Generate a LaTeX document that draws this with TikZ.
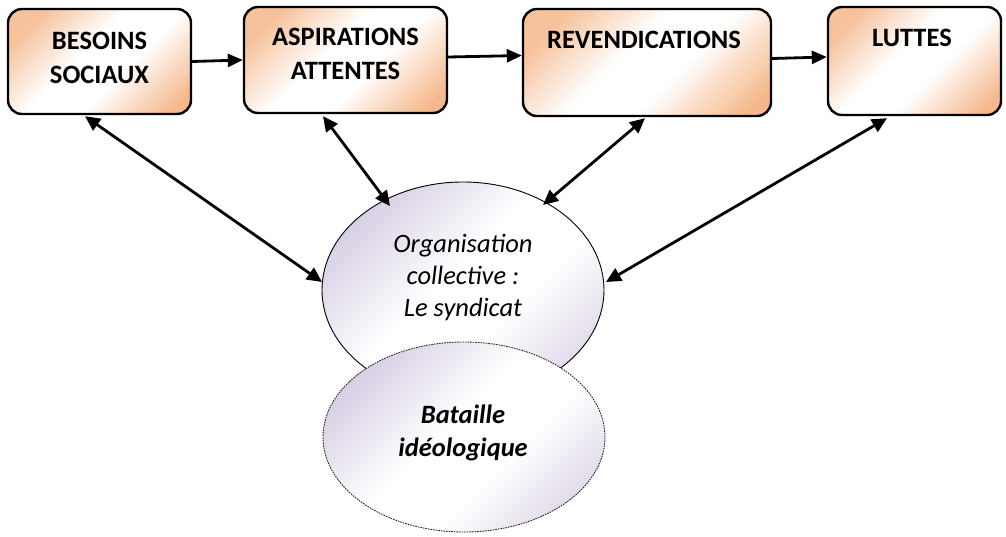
\documentclass[tikz,border=0pt]{standalone}
\usepackage{fontspec}
\setmainfont{Carlito}
\usetikzlibrary{shapes.geometric,arrows.meta,calc}

\definecolor{peach}{RGB}{245,184,140}
\definecolor{peachlt}{RGB}{246,194,156}
\definecolor{lilac}{RGB}{210,200,223}
\definecolor{lilaclt}{RGB}{214,205,227}

% diagonal band: tinted corner, white middle, tinted opposite corner
\pgfdeclarehorizontalshading{peachband}{100bp}{color(0bp)=(peachlt); color(24bp)=(peachlt); color(44bp)=(white); color(58bp)=(white); color(80bp)=(peach); color(100bp)=(peach)}
\pgfdeclarehorizontalshading{lilacband}{100bp}{color(0bp)=(lilaclt); color(24bp)=(lilaclt); color(46bp)=(white); color(60bp)=(white); color(84bp)=(lilac); color(100bp)=(lilac)}

\begin{document}
\begin{tikzpicture}[x=1pt,y=-1pt,
  stagebox/.style={draw=black, line width=2.4pt, rounded corners=14pt,
    shading=peachband, shading angle=-45, inner sep=0pt},
  stagetext/.style={font=\fontsize{26.5}{34}\selectfont\bfseries, align=center, inner sep=0pt},
  orgshape/.style={ellipse, draw=black, line width=0.9pt, shading=lilacband,
    shading angle=-45, inner sep=0pt},
  ideoshape/.style={ellipse, draw=black!85, line width=0.9pt,
    dash pattern=on 1.6pt off 1pt, shading=lilacband, shading angle=-45, inner sep=0pt},
  flow/.style={-{Triangle[length=15pt,width=13pt]}, line width=2.8pt},
  link/.style={{Triangle[length=15pt,width=14pt]}-{Triangle[length=15pt,width=14pt]}, line width=2.8pt}]

\useasboundingbox (0,0) rectangle (1006,536);

% the four stages
\node[stagebox, minimum width=183pt, minimum height=105pt] (b1) at (99.5,61.5) {};
\node[stagebox, minimum width=203pt, minimum height=106pt] (b2) at (345.5,60) {};
\node[stagebox, minimum width=248pt, minimum height=107pt] (b3) at (647,62.5) {};
\node[stagebox, minimum width=173pt, minimum height=108pt] (b4) at (914.5,61) {};

\node[stagetext] (t1) at (99.5,57.5) {BESOINS\\SOCIAUX};
\node[stagetext] (t2) at (345.5,54) {ASPIRATIONS\\ATTENTES};
\node[stagetext] (t3) at (644,39.5) {REVENDICATIONS};
\node[stagetext] (t4) at (912,37.5) {LUTTES};

% the union and the ideological battle
\node[orgshape, minimum width=282pt, minimum height=216pt] (e1) at (463,290) {};
\node[ideoshape, minimum width=282pt, minimum height=190pt] (e2) at (464,437) {};

\node[font=\fontsize{26.5}{32}\selectfont\itshape, align=center, inner sep=0pt] (te1) at (463,277)
  {Organisation\\collective :\\Le syndicat};
\node[font=\fontsize{26.5}{33}\selectfont\bfseries\itshape, align=center, inner sep=0pt] (te2) at (463,433)
  {Bataille\\idéologique};

% sequence of stages
\draw[flow] (b1.east) -- (b2.west);
\draw[flow] ([yshift=3pt]b2.east) -- ([yshift=7pt]b3.west);
\draw[flow] ([yshift=4pt]b3.east) -- ([yshift=4pt]b4.west);

% two-way links between each stage and the union
\draw[link] ([xshift=-14.5pt,yshift=-1pt]b1.south) -- ($(e1.center)+(-141,-8)$);
\draw[link] ([xshift=-22.5pt,yshift=-2pt]b2.south) -- ($(e1.center)+(-73,-84)$);
\draw[link] ([xshift=-2pt,yshift=-1pt]b3.south) -- ($(e1.center)+(80,-85)$);
\draw[link] ([xshift=-27.5pt,yshift=-2pt]b4.south) -- ($(e1.center)+(143,-8)$);

\end{tikzpicture}
\end{document}
